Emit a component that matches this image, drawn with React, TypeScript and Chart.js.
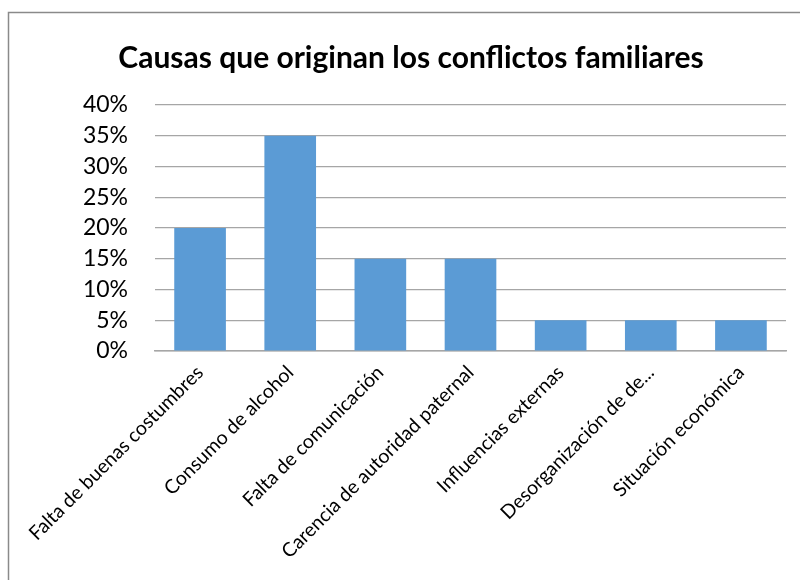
import React, { useEffect, useRef } from "react";
import { Chart, registerables } from "chart.js";

Chart.register(...registerables);

const TITLE = "Causas que originan los conflictos familiares";
const categories = [
  "Falta de buenas costumbres",
  "Consumo de alcohol",
  "Falta de comunicación",
  "Carencia de autoridad paternal",
  "Influencias externas",
  "Desorganización de de...",
  "Situación económica",
];
const values = [0.2, 0.35, 0.15, 0.15, 0.05, 0.05, 0.05];
const yTicks = [0, 0.05, 0.1, 0.15, 0.2, 0.25, 0.3, 0.35, 0.4];

const FONT = "Lato, 'Open Sans', sans-serif";

const borderPlugin = {
  id: "outerBorder",
  beforeDraw(chart: any) {
    const ctx = chart.ctx;
    ctx.save();
    ctx.fillStyle = "#ffffff";
    ctx.fillRect(0, 0, chart.width, chart.height);
    ctx.strokeStyle = "#8a8a8a";
    ctx.lineWidth = 1.5;
    ctx.beginPath();
    ctx.moveTo(8.5, chart.height);
    ctx.lineTo(8.5, 12.5);
    ctx.lineTo(chart.width, 12.5);
    ctx.stroke();
    ctx.restore();
  },
};

export default function App() {
  const ref = useRef<HTMLCanvasElement | null>(null);
  useEffect(() => {
    if (!ref.current) return;
    const chart = new Chart(ref.current, {
      type: "bar",
      data: {
        labels: categories,
        datasets: [
          {
            data: values,
            backgroundColor: "#5b9bd5",
            borderWidth: 0,
            categoryPercentage: 1,
            barPercentage: 0.573,
          },
        ],
      },
      options: {
        responsive: false,
        animation: false,
        layout: { padding: { left: 36, right: 14, top: 0, bottom: 0 } },
        plugins: {
          legend: { display: false },
          tooltip: { enabled: false },
          title: {
            display: true,
            text: TITLE,
            color: "#000000",
            font: { family: FONT, size: 30, weight: "bold", lineHeight: 1.2 },
            padding: { top: 40, bottom: 29 },
          },
        },
        scales: {
          x: {
            grid: { display: false, drawTicks: false },
            border: { display: true, color: "#a6a6a6", width: 1.5 },
            ticks: {
              autoSkip: false,
              minRotation: 45,
              maxRotation: 45,
              padding: 10,
              color: "#000000",
              font: { family: FONT, size: 19.5 },
            },
            afterFit(scale: any) {
              scale.height = 229;
            },
          },
          y: {
            min: 0,
            max: 0.4,
            afterBuildTicks(scale: any) {
              scale.ticks = yTicks.map((v) => ({ value: v }));
            },
            grid: { color: "#a6a6a6", lineWidth: 1.2, drawTicks: false },
            border: { display: false },
            ticks: {
              padding: 27,
              color: "#000000",
              font: { family: FONT, size: 23 },
              callback: (v: any) => Math.round(Number(v) * 100) + "%",
            },
            afterFit(scale: any) {
              scale.width = 119;
            },
          },
        },
      },
      plugins: [borderPlugin],
    });
    return () => chart.destroy();
  }, []);
  return (
    <div style={{ position: "fixed", left: 0, top: 0, width: 800, height: 580 }}>
      <canvas ref={ref} width={800} height={580} style={{ display: "block" }} />
    </div>
  );
}
